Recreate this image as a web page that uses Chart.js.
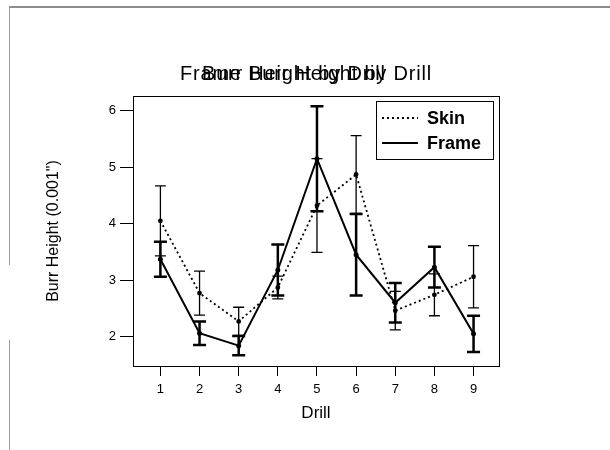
<!DOCTYPE html>
<html lang="en">
<head>
    <title>Burr Height by Drill</title>
    <meta charset="utf-8">
    <style>
        body { margin: 0; background: #fff; }
        canvas { display: block; }
    </style>
</head>
<body>
    <canvas id="burrChart" width="610" height="450"></canvas>

    <script src="https://cdn.jsdelivr.net/npm/chart.js"></script>
    <script>
        // Valores
        const drills = [1, 2, 3, 4, 5, 6, 7, 8, 9];
        const skinMean = [4.05, 2.77, 2.27, 2.87, 4.32, 4.87, 2.46, 2.74, 3.06];
        const skinErr = [0.62, 0.39, 0.25, 0.20, 0.83, 0.69, 0.34, 0.37, 0.55];
        const frameMean = [3.37, 2.06, 1.84, 3.18, 5.15, 3.45, 2.60, 3.23, 2.05];
        const frameErr = [0.31, 0.21, 0.17, 0.45, 0.93, 0.72, 0.35, 0.36, 0.32];
        const yTicks = [2, 3, 4, 5, 6];
        const titles = ['Frame Burr Height by Drill', 'Burr Height by Drill'];

        const FONT = '"Liberation Sans", Arial, sans-serif';

        function toPoints(values) {
            return drills.map((d, i) => ({ x: d, y: values[i] }));
        }

        // fondo blanco y marcas sueltas del escaneo
        const paperPlugin = {
            id: 'paper',
            beforeDraw(chart) {
                const ctx = chart.ctx;
                ctx.save();
                ctx.fillStyle = '#fff';
                ctx.fillRect(0, 0, chart.width, chart.height);
                ctx.strokeStyle = '#666';
                ctx.lineWidth = 1.5;
                ctx.beginPath();
                ctx.moveTo(9, 7);
                ctx.lineTo(chart.width, 7);
                ctx.stroke();
                ctx.strokeStyle = '#999';
                ctx.lineWidth = 1;
                ctx.beginPath();
                ctx.moveTo(9.5, 7);
                ctx.lineTo(9.5, 265);
                ctx.moveTo(9.5, 340);
                ctx.lineTo(9.5, chart.height);
                ctx.stroke();
                ctx.restore();
            }
        };

        // caja del area de datos
        const boxPlugin = {
            id: 'box',
            afterDraw(chart) {
                const a = chart.chartArea;
                const ctx = chart.ctx;
                ctx.save();
                ctx.strokeStyle = '#000';
                ctx.lineWidth = 1;
                ctx.strokeRect(a.left + 0.5, a.top + 0.5, a.right - a.left, a.bottom - a.top);
                ctx.restore();
            }
        };

        // barras de error
        const errorBarPlugin = {
            id: 'errorBars',
            afterDatasetsDraw(chart) {
                const ctx = chart.ctx;
                const xs = chart.scales.x;
                const ys = chart.scales.y;
                chart.data.datasets.forEach(ds => {
                    ctx.save();
                    ctx.strokeStyle = '#000';
                    ctx.lineWidth = ds.errWidth;
                    ds.data.forEach((p, i) => {
                        const x = xs.getPixelForValue(p.x);
                        const hi = ys.getPixelForValue(p.y + ds.errors[i]);
                        const lo = ys.getPixelForValue(p.y - ds.errors[i]);
                        const w = ds.capHalf;
                        ctx.beginPath();
                        ctx.moveTo(x, hi);
                        ctx.lineTo(x, lo);
                        ctx.moveTo(x - w, hi);
                        ctx.lineTo(x + w, hi);
                        ctx.moveTo(x - w, lo);
                        ctx.lineTo(x + w, lo);
                        ctx.stroke();
                    });
                    ctx.restore();
                });
            }
        };

        // titulos superpuestos y leyenda dentro del area
        const textPlugin = {
            id: 'texts',
            afterDraw(chart) {
                const ctx = chart.ctx;
                ctx.save();
                ctx.fillStyle = '#000';
                ctx.textBaseline = 'alphabetic';
                ctx.textAlign = 'left';
                ctx.font = '20px ' + FONT;
                const w0 = ctx.measureText(titles[0]).width;
                const extra = (252 - w0) / titles[0].length;
                if ('letterSpacing' in ctx) ctx.letterSpacing = extra.toFixed(2) + 'px';
                ctx.fillText(titles[0], 180, 80);
                ctx.fillText(titles[1], 202, 80);
                if ('letterSpacing' in ctx) ctx.letterSpacing = '0px';

                // leyenda
                const a = chart.chartArea;
                const bx = a.right - 123, by = a.top + 5, bw = 117, bh = 58;
                ctx.fillStyle = '#fff';
                ctx.fillRect(bx, by, bw, bh);
                ctx.strokeStyle = '#000';
                ctx.lineWidth = 1;
                ctx.strokeRect(bx + 0.5, by + 0.5, bw, bh);
                ctx.font = 'bold 18px ' + FONT;
                chart.data.datasets.forEach((ds, i) => {
                    const ly = by + 17 + i * 25;
                    ctx.save();
                    ctx.lineWidth = ds.borderWidth;
                    ctx.setLineDash(ds.borderDash || []);
                    ctx.beginPath();
                    ctx.moveTo(bx + 6, ly);
                    ctx.lineTo(bx + 42, ly);
                    ctx.stroke();
                    ctx.restore();
                    ctx.fillStyle = '#000';
                    ctx.fillText(ds.label, bx + 51, ly + 6);
                });
                ctx.restore();
            }
        };

        const ctx = document.getElementById('burrChart').getContext('2d');
        new Chart(ctx, {
            type: 'line',
            data: {
                datasets: [
                    {
                        label: 'Skin',
                        data: toPoints(skinMean),
                        errors: skinErr,
                        errWidth: 1.3,
                        capHalf: 5.5,
                        borderColor: '#000',
                        backgroundColor: '#000',
                        borderWidth: 1.8,
                        borderDash: [2, 3],
                        pointRadius: 1.5,
                        pointHoverRadius: 1.5,
                        tension: 0
                    },
                    {
                        label: 'Frame',
                        data: toPoints(frameMean),
                        errors: frameErr,
                        errWidth: 2.5,
                        capHalf: 6.5,
                        borderColor: '#000',
                        backgroundColor: '#000',
                        borderWidth: 2,
                        pointRadius: 1.5,
                        pointHoverRadius: 1.5,
                        tension: 0
                    }
                ]
            },
            options: {
                responsive: false,
                devicePixelRatio: 1,
                animation: false,
                layout: {
                    padding: { left: 40, top: 96, right: 111, bottom: 22 }
                },
                plugins: {
                    legend: { display: false },
                    title: { display: false },
                    tooltip: { enabled: false }
                },
                scales: {
                    x: {
                        type: 'linear',
                        min: 0.3,
                        max: 9.65,
                        afterBuildTicks: s => { s.ticks = drills.map(v => ({ value: v })); },
                        afterFit: s => { s.height = 62; },
                        grid: { drawOnChartArea: false, drawTicks: true, tickLength: 10, color: '#000' },
                        border: { display: true, color: '#000', width: 1 },
                        ticks: { color: '#000', padding: 6, font: { family: FONT, size: 13 } },
                        title: {
                            display: true,
                            text: 'Drill',
                            color: '#000',
                            padding: 4,
                            font: { family: FONT, size: 17 }
                        }
                    },
                    y: {
                        type: 'linear',
                        min: 1.48,
                        max: 6.26,
                        afterBuildTicks: s => { s.ticks = yTicks.map(v => ({ value: v })); },
                        afterFit: s => { s.width = 93; },
                        grid: { drawOnChartArea: false, drawTicks: true, tickLength: 13, color: '#000' },
                        border: { display: true, color: '#000', width: 1 },
                        ticks: { color: '#000', padding: 4, font: { family: FONT, size: 13 } },
                        title: {
                            display: true,
                            text: 'Burr Height (0.001")',
                            color: '#000',
                            padding: 4,
                            font: { family: FONT, size: 16 }
                        }
                    }
                }
            },
            plugins: [paperPlugin, errorBarPlugin, boxPlugin, textPlugin]
        });
    </script>
</body>
</html>
